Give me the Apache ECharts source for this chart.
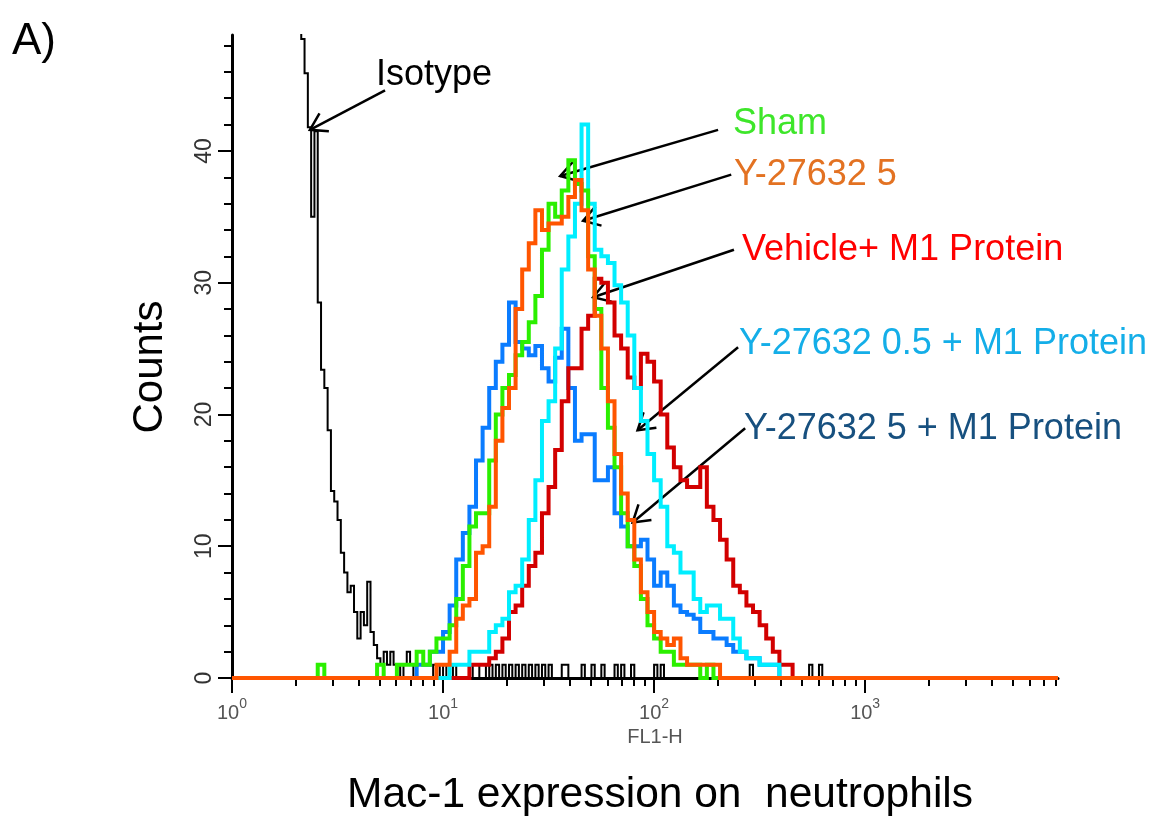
<!DOCTYPE html>
<html>
<head>
<meta charset="utf-8">
<script src="https://cdn.jsdelivr.net/npm/echarts@6/dist/echarts.min.js"></script>
<style>
  html, body { margin: 0; padding: 0; background: #fff; }
  #chart { width: 1172px; height: 817px; }
</style>
</head>
<body>
<div id="chart"></div>
<script>
// FL1-H histogram: 256 channels across 4 log decades (64 channels per decade)
const CHANNELS_PER_DECADE = 64;
const X_MIN = 1;
const X_MAX = 8200;
const Y_MAX = 48.8;

// Axis ticks
const DECADE_TICKS = [1, 10, 100, 1000];
const MINOR_X_TICKS = [2, 3, 4, 5, 6, 7, 8, 9,
  20, 30, 40, 50, 60, 70, 80, 90,
  200, 300, 400, 500, 600, 700, 800, 900,
  2000, 3000, 4000, 5000, 6000, 7000, 8000];
const Y_LABEL_TICKS = [0, 10, 20, 30, 40];
const Y_MINOR_TICKS = [0, 2, 4, 6, 8, 10, 12, 14, 16, 18, 20, 22, 24, 26, 28,
  30, 32, 34, 36, 38, 40, 42, 44, 46, 48];

// Isotype control: one value per channel, starting at channel 20
const ISOTYPE_FIRST_CHANNEL = 20;
const ISOTYPE_COUNTS = [
  70, 48.5, 45.9, 41.8, 35, 41.5, 28.5, 23.4, 22, 18.8,
  14.2, 13.4, 12, 9.5, 8, 6.5, 7, 5, 3, 5,
  4, 7.3, 3.5, 2.5, 1.5, 1, 2, 1, 2, 1,
  1, 0, 1, 2, 1, 0, 0, 0, 0, 0,
  0, 1, 0, 1, 0, 1, 0, 1, 0, 0,
  0, 0, 1, 0, 0, 1, 1, 0, 1, 0,
  1, 0, 1, 0, 1, 0, 1, 0, 1, 0,
  1, 0, 1, 0, 1, 0, 1, 0, 0, 0,
  1, 1, 0, 0, 0, 0, 1, 0, 0, 1,
  0, 0, 1, 0, 0, 0, 1, 0, 1, 0,
  0, 1, 0, 0, 0, 0, 0, 0, 1, 0,
  1, 0, 0, 0, 0, 0, 0, 0, 0, 0,
  0, 0, 0, 0, 0, 0, 0, 0, 0, 0,
  0, 0, 0, 0, 0, 0, 0, 1, 0, 0,
  0, 0, 0, 0, 0, 0, 0, 0, 0, 0,
  0, 0, 0, 0, 0, 1, 0, 0, 1, 0
];

// Stained samples: one value per 2-channel bin
const SAMPLE_CHANNELS_PER_BIN = 2;

const SHAM_FIRST_CHANNEL = 24;
const SHAM_COUNTS = [
  0, 1, 0, 0, 0, 0, 0, 0, 0, 0, 1, 0, 0, 1, 1, 1, 2, 1, 2, 3,
  3, 4, 6, 8.5, 11.5, 12.5, 12.5, 16.5, 20, 22, 23, 24.5, 25.5, 27, 29, 32.5,
  36, 35, 37, 39.3, 37.5, 37, 32, 28, 22, 19, 16, 12.5, 10, 8.5,
  6, 4, 3, 2, 2, 1, 1, 1, 1, 0, 1, 0
];

const Y5_FIRST_CHANNEL = 60;
const Y5_COUNTS = [
  0, 1, 1, 2, 4.5, 5.5, 6, 9.5, 10, 13, 18, 20.5, 22, 28, 31, 33, 35.5,
  34, 34.5, 34.5, 35, 36.5, 37.8, 35.5, 31, 27.5, 25, 21, 17, 14, 12,
  9, 6.5, 5, 3.5, 3, 2.5, 3, 1.5, 1, 1, 1, 1, 1, 0
];

const VEHICLE_M1_FIRST_CHANNEL = 70;
const VEHICLE_M1_COUNTS = [
  0, 1, 1, 1, 1.5, 2, 3, 5, 5.5, 7, 8.5, 9.5, 12.5, 14.5, 17.3, 21,
  23.5, 23.5, 26.5, 27.5, 30.3, 30, 28.5, 26, 25, 22.8, 22, 24.6, 24,
  22.5, 20, 17.5, 16, 15, 14.5, 14.5, 16, 13, 12, 10.5, 9, 7, 6.5,
  5.5, 5, 4, 3, 2, 1, 1, 0
];

const Y05_M1_FIRST_CHANNEL = 64;
const Y05_M1_COUNTS = [
  0, 1, 1, 1, 2, 2, 2, 3.5, 4, 4.5, 6.5, 7, 9, 12, 15, 19.5, 21, 25,
  31, 33.5, 36, 42, 36, 32.5, 32, 31.5, 29.8, 28.5, 26, 22, 19.5, 17,
  15, 13, 10, 9.5, 8, 8, 6, 5, 5.5, 5.5, 4.5, 4.5, 3, 2, 1.5, 1.5,
  1, 1, 1, 0
];

const Y5_M1_FIRST_CHANNEL = 54;
const Y5_M1_COUNTS = [
  0, 1, 1, 2, 2, 3.5, 5.5, 9, 11, 13, 16.5, 19, 22, 24, 25.3, 28.5,
  25.5, 25, 24.5, 25.2, 23.5, 22.5, 24.3, 26.5, 22, 18, 18.5, 18.5,
  15, 15, 16, 12.5, 11.5, 10, 10, 10.5, 9, 7, 8, 7, 5.5, 5, 4.8, 4.5,
  3.5, 3.5, 3, 3, 2.5, 2, 2, 1.5, 1.5, 1, 1, 1, 0
];

// Turn channel counts into [FL1-H, count] points for a step line
function histogramPoints(firstChannel, channelsPerBin, counts) {
  const pts = [];
  if (counts[0] === 0) pts.push([X_MIN, 0]);
  counts.forEach(function (c, i) {
    const ch = firstChannel + i * channelsPerBin;
    pts.push([Math.pow(10, ch / CHANNELS_PER_DECADE), c]);
  });
  if (counts[counts.length - 1] === 0) pts.push([X_MAX, 0]);
  return pts;
}

// Drawing order: later series sit on top
const SERIES_DEFS = [
  { name: 'Isotype', first: ISOTYPE_FIRST_CHANNEL, per: 1, counts: ISOTYPE_COUNTS, color: '#000000', width: 2 },
  { name: 'Y-27632 5 + M1 Protein', first: Y5_M1_FIRST_CHANNEL, per: SAMPLE_CHANNELS_PER_BIN, counts: Y5_M1_COUNTS, color: '#0a7cff', width: 4 },
  { name: 'Vehicle+ M1 Protein', first: VEHICLE_M1_FIRST_CHANNEL, per: SAMPLE_CHANNELS_PER_BIN, counts: VEHICLE_M1_COUNTS, color: '#d20000', width: 4 },
  { name: 'Y-27632 0.5 + M1 Protein', first: Y05_M1_FIRST_CHANNEL, per: SAMPLE_CHANNELS_PER_BIN, counts: Y05_M1_COUNTS, color: '#00eeff', width: 4 },
  { name: 'Sham', first: SHAM_FIRST_CHANNEL, per: SAMPLE_CHANNELS_PER_BIN, counts: SHAM_COUNTS, color: '#2bef00', width: 4 },
  { name: 'Y-27632 5', first: Y5_FIRST_CHANNEL, per: SAMPLE_CHANNELS_PER_BIN, counts: Y5_COUNTS, color: '#ff5500', width: 4 }
];

// Callouts: label placement in pixels, arrow tip/tail in data coordinates
const CALLOUTS = [
  { text: 'Isotype', color: '#000000', x: 376, y: 75, tip: [2.34, 41.6], tail: [5.31, 44.6] },
  { text: 'Sham', color: '#3ee62a', x: 733, y: 124, tip: [35.9, 38.1], tail: [201, 41.6] },
  { text: 'Y-27632 5', color: '#e37222', x: 734, y: 175, tip: [46.1, 34.7], tail: [232, 38.2] },
  { text: 'Vehicle+ M1 Protein', color: '#ff0000', x: 742, y: 250, tip: [51.4, 28.9], tail: [239, 32.5] },
  { text: 'Y-27632 0.5 + M1 Protein', color: '#14aee8', x: 739, y: 344, tip: [83.5, 18.8], tail: [250, 25.1] },
  { text: 'Y-27632 5 + M1 Protein', color: '#17507f', x: 744, y: 429, tip: [79.1, 11.8], tail: [270, 18.95] }
];

const FONT = '"Liberation Sans", Arial, Helvetica, sans-serif';
const chart = echarts.init(document.getElementById('chart'), null, { renderer: 'canvas' });

const option = {
  animation: false,
  backgroundColor: '#ffffff',
  grid: { left: 232, right: 114, top: 35, bottom: 139, containLabel: false },
  xAxis: [
    {
      type: 'log', logBase: 10, min: X_MIN, max: X_MAX, position: 'bottom',
      axisLine: { show: true, lineStyle: { color: '#000', width: 3 } },
      axisTick: { show: true, customValues: DECADE_TICKS, length: 15, lineStyle: { color: '#000', width: 2 } },
      axisLabel: {
        show: true, customValues: DECADE_TICKS, margin: 19,
        formatter: function (v) { return '{b|10}{s|' + Math.round(Math.log10(v)) + '}'; },
        rich: {
          b: { fontSize: 20, fontFamily: FONT, color: '#555', lineHeight: 26, verticalAlign: 'bottom' },
          s: { fontSize: 14, fontFamily: FONT, color: '#555', lineHeight: 26, verticalAlign: 'top' }
        }
      },
      splitLine: { show: false },
      name: 'FL1-H', nameLocation: 'middle', nameGap: 48,
      nameTextStyle: { fontSize: 20, fontFamily: FONT, color: '#555', padding: [0, 0, 0, 20] }
    },
    {
      type: 'log', logBase: 10, min: X_MIN, max: X_MAX, position: 'bottom',
      axisLine: { show: false },
      axisTick: { show: true, customValues: MINOR_X_TICKS, length: 8, lineStyle: { color: '#000', width: 2 } },
      axisLabel: { show: false },
      splitLine: { show: false }
    }
  ],
  yAxis: [
    {
      type: 'value', min: 0, max: Y_MAX, position: 'left',
      axisLine: { show: true, lineStyle: { color: '#000', width: 3 } },
      axisTick: { show: true, customValues: Y_LABEL_TICKS, length: 14, lineStyle: { color: '#000', width: 2 } },
      axisLabel: {
        show: true, customValues: Y_LABEL_TICKS, rotate: 90, margin: 16,
        fontSize: 23, fontFamily: FONT, color: '#333'
      },
      splitLine: { show: false }
    },
    {
      type: 'value', min: 0, max: Y_MAX, position: 'left',
      axisLine: { show: false },
      axisTick: { show: true, customValues: Y_MINOR_TICKS, length: 8, lineStyle: { color: '#000', width: 2 } },
      axisLabel: { show: false },
      splitLine: { show: false }
    }
  ],
  series: SERIES_DEFS.map(function (d) {
    return {
      name: d.name, type: 'line', step: 'end', xAxisIndex: 0, yAxisIndex: 0,
      data: histogramPoints(d.first, d.per, d.counts),
      showSymbol: false, symbol: 'none', silent: true,
      lineStyle: { color: d.color, width: d.width, join: 'miter', cap: 'butt' }
    };
  }),
  graphic: []
};

chart.setOption(option);

// Titles and callouts
const graphics = [
  {
    type: 'text', x: 12, y: 42,
    style: { text: 'A)', fill: '#000', font: '44px ' + FONT, textAlign: 'left', textVerticalAlign: 'middle', align: 'left', verticalAlign: 'middle' }
  },
  {
    type: 'text', x: 150, y: 367, rotation: Math.PI / 2,
    style: { text: 'Counts', fill: '#000', font: '42px ' + FONT, textAlign: 'center', textVerticalAlign: 'middle', align: 'center', verticalAlign: 'middle' }
  },
  {
    type: 'text', x: 660, y: 795,
    style: { text: 'Mac-1 expression on  neutrophils', fill: '#000', font: '42.5px ' + FONT, textAlign: 'center', textVerticalAlign: 'middle', align: 'center', verticalAlign: 'middle' }
  }
];

const ARM = 19;
const SPREAD = 32 * Math.PI / 180;
CALLOUTS.forEach(function (c) {
  const tip = chart.convertToPixel({ xAxisIndex: 0, yAxisIndex: 0 }, c.tip);
  const tail = chart.convertToPixel({ xAxisIndex: 0, yAxisIndex: 0 }, c.tail);
  const ang = Math.atan2(tail[1] - tip[1], tail[0] - tip[0]);
  const a1 = [tip[0] + ARM * Math.cos(ang + SPREAD), tip[1] + ARM * Math.sin(ang + SPREAD)];
  const a2 = [tip[0] + ARM * Math.cos(ang - SPREAD), tip[1] + ARM * Math.sin(ang - SPREAD)];
  graphics.push({
    type: 'line', silent: true,
    shape: { x1: tail[0], y1: tail[1], x2: tip[0], y2: tip[1] },
    style: { stroke: '#000', lineWidth: 2.5 }
  });
  graphics.push({
    type: 'polyline', silent: true,
    shape: { points: [a1, tip, a2] },
    style: { stroke: '#000', lineWidth: 2.5, fill: null, lineJoin: 'miter' }
  });
  graphics.push({
    type: 'text', x: c.x, y: c.y,
    style: { text: c.text, fill: c.color, font: '36px ' + FONT, textAlign: 'left', textVerticalAlign: 'middle', align: 'left', verticalAlign: 'middle' }
  });
});

chart.setOption({ graphic: graphics });
</script>
</body>
</html>
